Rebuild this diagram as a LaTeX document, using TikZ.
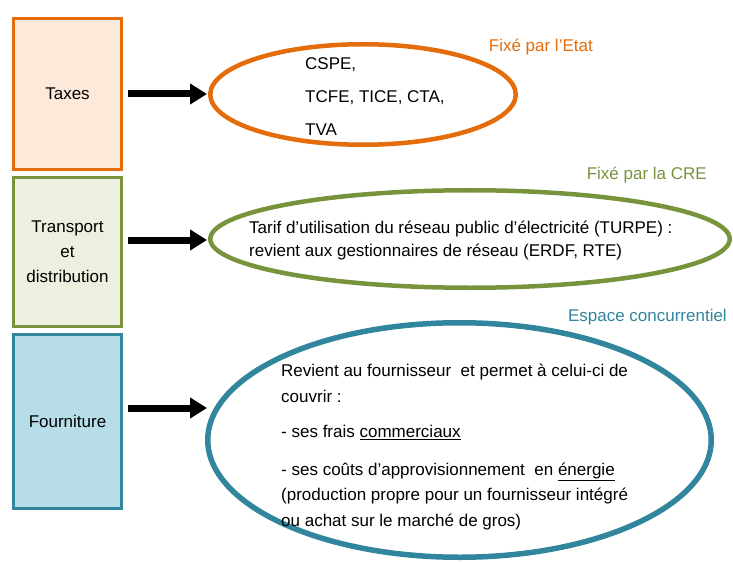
\documentclass[tikz,border=0pt]{standalone}
\usepackage{fontspec}
\setmainfont{Liberation Sans}
\usepackage{xcolor}
\usetikzlibrary{arrows.meta,calc,positioning,shapes.geometric}
\definecolor{taxeorange}{HTML}{E46C0A}
\definecolor{taxefond}{HTML}{FDE9D9}
\definecolor{creverte}{HTML}{77933C}
\definecolor{crefond}{HTML}{EBF1DE}
\definecolor{fournbleu}{HTML}{31859C}
\definecolor{fournfond}{HTML}{B7DEE8}
\tikzset{%
	block/.style    = {draw, rectangle, line width=3pt, minimum width=108pt, align=center, font=\fontsize{17}{25}\selectfont}, % pave a gauche
	bulle/.style    = {draw, ellipse, line width=4.5pt, inner sep=0pt}, % ellipse
	contenu/.style  = {align=left, anchor=north west, inner sep=0pt}, % texte dans l'ellipse
	titre/.style    = {anchor=base east, inner sep=0pt, font=\fontsize{17}{20}\selectfont}, % titre au-dessus
	fleche/.style   = {line width=7pt, -{Triangle[length=17pt,width=20pt]}, shorten <=5pt}, % fleche
}

\begin{document}
\begin{tikzpicture}[x=1pt, y=-1pt, node distance = 5pt]
		\useasboundingbox (0,0) rectangle (733,564);
		\node[block, draw=taxeorange, fill=taxefond, minimum height=151pt] (taxes) at (67.5,94) {Taxes};
		\node[block, draw=creverte, fill=crefond, minimum height=149pt, below=of taxes] (transport) {Transport\\et\\distribution};
		\node[block, draw=fournbleu, fill=fournfond, minimum height=174pt, below=of transport] (fourniture) {Fourniture};
		
		\node[bulle, draw=taxeorange, minimum width=305.5pt, minimum height=100.5pt] (etat) at (363,94.5) {};
		\node[bulle, draw=creverte, minimum width=519.5pt, minimum height=97.5pt] (cre) at (470,239) {};
		\node[bulle, draw=fournbleu, line width=5.5pt, minimum width=503.5pt, minimum height=234.5pt] (concur) at (459.5,440) {};
		
		\node[contenu, font=\fontsize{17}{33}\selectfont] (txtetat) at (305,57) {CSPE,\\TCFE, TICE, CTA,\\TVA};
		\node[contenu, font=\fontsize{17}{23}\selectfont] (txtcre) at (249,221) {Tarif d'utilisation du réseau public d'électricité (TURPE) :\\revient aux gestionnaires de réseau (ERDF, RTE)};
		\node[contenu, font=\fontsize{17}{25.5}\selectfont] (txtconcur) at (281,364) {Revient au fournisseur \ et permet à celui-ci de\\couvrir :\\[10pt]- ses frais \underline{commerciaux}\\[12pt]- ses coûts d'approvisionnement \ en \underline{énergie}\\(production propre pour un fournisseur intégré\\ou achat sur le marché de gros)};
		
		\node[titre, text=taxeorange] (tetat) at (593,52) {Fixé par l'Etat};
		\node[titre, text=creverte] (tcre) at (707,179) {Fixé par la CRE};
		\node[titre, text=fournbleu] (tconcur) at (727,321) {Espace concurrentiel};
		
		\coordinate (p1) at (207,94);
		\coordinate (p2) at (207,240);
		\coordinate (p3) at (207,408);
		\draw[fleche] (taxes.east |- p1) -- (p1);
		\draw[fleche] (transport.east |- p2) -- (p2);
		\draw[fleche] (fourniture.east |- p3) -- (p3);
		
		\end{tikzpicture}
\end{document}
